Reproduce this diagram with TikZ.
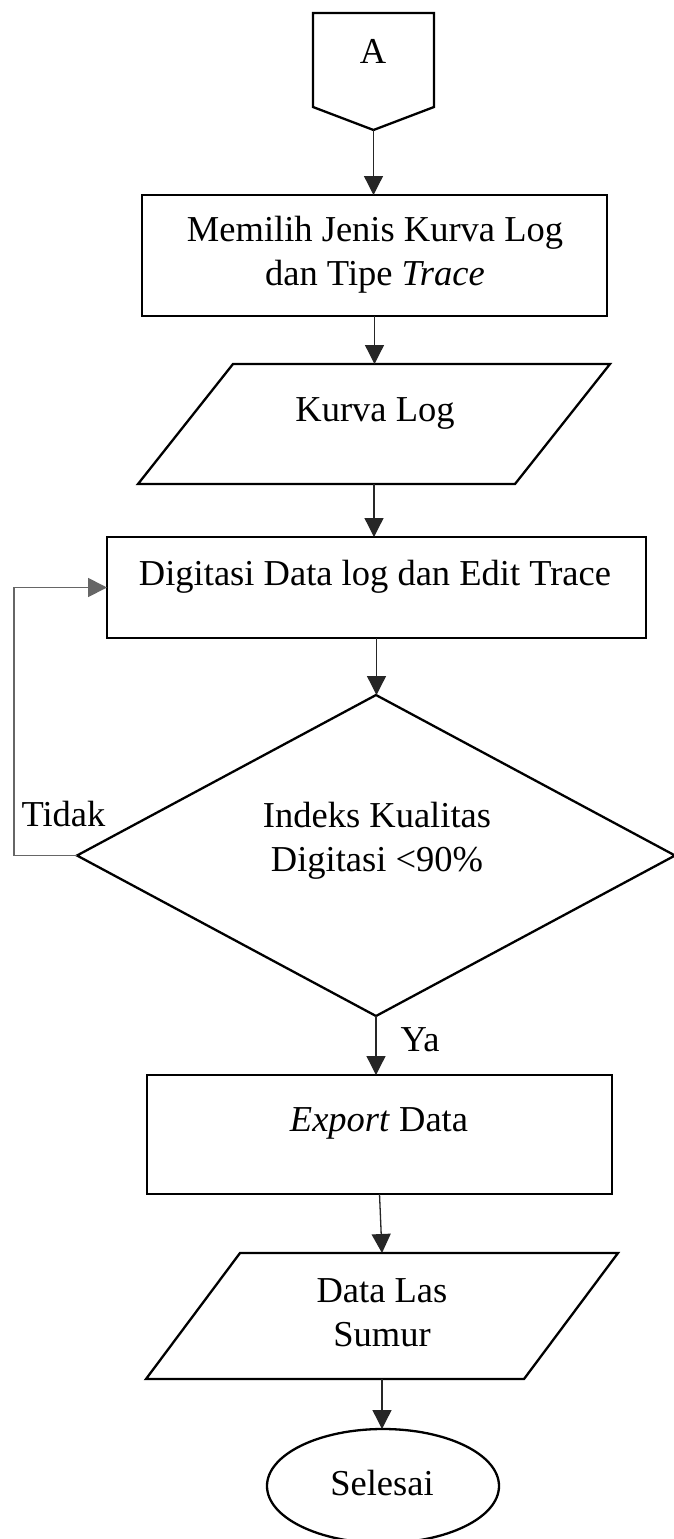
\documentclass[tikz,border=0pt]{standalone}
\usepackage{fontspec}
\setmainfont{Liberation Serif}
\usetikzlibrary{shapes.geometric,arrows.meta,calc}
\begin{document}
\begin{tikzpicture}[x=1pt,y=-1pt,
  shapeline/.style={draw=black,line width=2.3pt,inner sep=0pt,outer sep=0pt},
  procbox/.style={shapeline,rectangle},
  ioarea/.style={rectangle,inner sep=0pt,outer sep=0pt},
  iodraw/.style={line width=2.3pt,line join=miter},
  decbox/.style={shapeline,diamond},
  endbox/.style={shapeline,ellipse},
  txt/.style={font=\fontsize{36.5}{44}\selectfont,align=center,inner sep=0pt},
  conn/.style={draw=black!85,line width=1.3pt,-{Triangle[length=19pt,width=19pt]}},
  loopline/.style={draw=black!60,line width=1.8pt}]
\useasboundingbox (0,0) rectangle (674,1539);
\fill[white] (0,0) rectangle (674,1539);

% off-page connector A
\node[minimum width=121pt,minimum height=117pt,inner sep=0pt,outer sep=0pt] (A) at (373.5,71.5) {};
\draw[iodraw] (A.north west) -- (A.north east) -- ($(A.south east)+(0,-23)$) -- (A.south) -- ($(A.south west)+(0,-23)$) -- cycle;
\node[txt] (tA) at (373,51) {A};

% process 1
\node[procbox,minimum width=465pt,minimum height=121pt] (b1) at (374.5,255.5) {};
\node[txt] (t1) at (375,255) {Memilih Jenis Kurva Log\\dan Tipe \textit{Trace}};

% input 1
\node[ioarea,minimum width=472pt,minimum height=120pt] (p1) at (374,424) {};
\draw[iodraw] (p1.south west) -- ($(p1.north west)+(95,0)$) -- (p1.north east) -- ($(p1.south east)+(-95,0)$) -- cycle;
\node[txt] (t2) at (375,413) {Kurva Log};

% process 2
\node[procbox,minimum width=539pt,minimum height=101pt] (b2) at (376.5,587.5) {};
\node[txt] (t3) at (375,577) {Digitasi Data log dan Edit Trace};

% decision
\node[decbox,minimum width=598pt,minimum height=321pt] (d) at (376,855.5) {};
\node[txt] (t4) at (377,841) {Indeks Kualitas\\Digitasi <90\%};

% process 3
\node[procbox,minimum width=465pt,minimum height=119pt] (b3) at (379.5,1134.5) {};
\node[txt] (t5) at (379,1123) {\textit{Export} Data};

% output
\node[ioarea,minimum width=472pt,minimum height=126pt] (p2) at (382,1316) {};
\draw[iodraw] (p2.south west) -- ($(p2.north west)+(94,0)$) -- (p2.north east) -- ($(p2.south east)+(-94,0)$) -- cycle;
\node[txt] (t6) at (382,1313) {Data Las\\Sumur};

% terminator
\node[endbox,minimum width=232pt,minimum height=114pt] (e) at (383,1486) {};
\node[txt] (t7) at (382,1483) {Selesai};

% labels
\node[txt] (ltidak) at (63.5,814) {Tidak};
\node[txt] (lya) at (420,1040) {Ya};

% connectors
\draw[conn] (A.south) -- (A.south |- b1.north);
\draw[conn] (b1.south) -- (b1.south |- p1.north);
\draw[conn] (p1.south) -- (p1.south |- b2.north);
\draw[conn] (b2.south) -- (b2.south |- d.north);
\draw[conn] (d.south) -- (d.south |- b3.north);
\draw[conn] (b3.south) -- (p2.north);
\draw[conn] (p2.south) -- (p2.south |- e.north);
\coordinate (lc) at (14,855.5);
\draw[loopline] (d.west) -- (lc) |- ([xshift=-17pt]b2.west);
\draw[conn,draw=black!60,line width=1.8pt] ([xshift=-19.5pt]b2.west) -- (b2.west);
\end{tikzpicture}
\end{document}
